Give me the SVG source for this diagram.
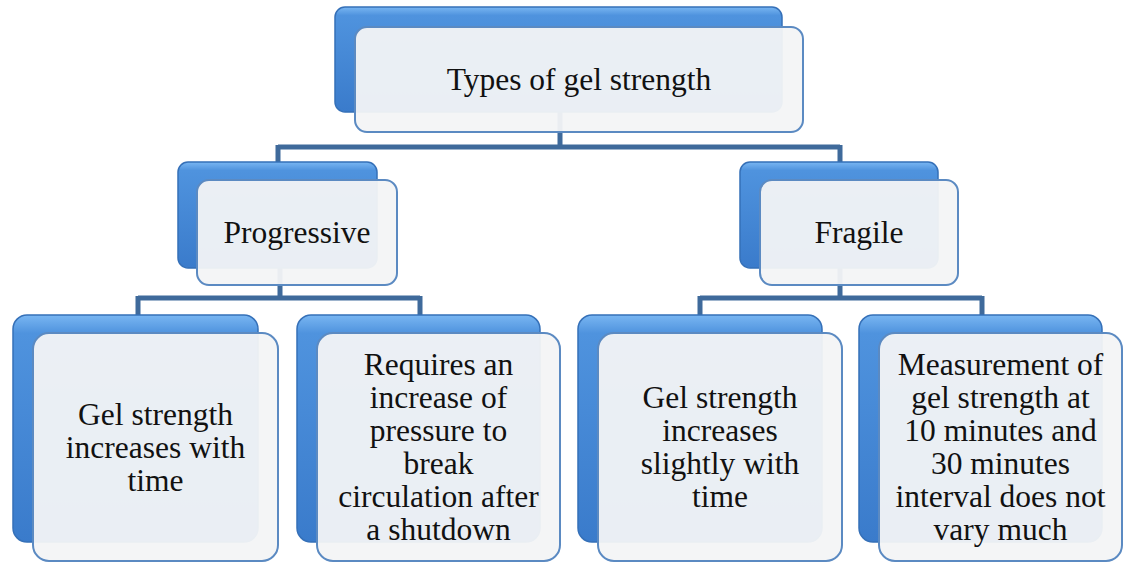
<svg xmlns="http://www.w3.org/2000/svg" width="1125" height="564" viewBox="0 0 1125 564">
<defs>
<linearGradient id="blue" x1="0" y1="0" x2="0" y2="1">
<stop offset="0" stop-color="#79b6f2"/>
<stop offset="0.08" stop-color="#4f93de"/>
<stop offset="1" stop-color="#3a7bcb"/>
</linearGradient>
<style>
.back{fill:url(#blue);stroke:#3570b8;stroke-width:1.5}
.front{fill:#f3f4f6;fill-opacity:0.95;stroke:#5b8ac2;stroke-width:2}
.conn{fill:none;stroke:#3f6a9b;stroke-width:5}
.t{font-family:"Liberation Serif","Times New Roman",serif;font-size:31.5px;fill:#111;text-anchor:middle}
</style>
</defs>
<rect width="1125" height="564" fill="#ffffff"/>
<g id="connectors">
<path class="conn" d="M560,112 V147 M278,147 H840 M278,145 V162 M840,145 V162"/>
<path class="conn" d="M280,268 V298 M138,298 H420 M138,296 V315 M420,296 V315"/>
<path class="conn" d="M840,268 V298 M700,298 H982 M700,296 V315 M982,296 V315"/>
</g>
<g id="node-root">
<rect class="back" x="335" y="7" width="447" height="105" rx="10"/>
<rect class="front" x="355" y="27" width="448" height="105" rx="12"/>
<text class="t" x="579" y="90">Types of gel strength</text>
</g>
<g id="node-progressive">
<rect class="back" x="178" y="162" width="199" height="106" rx="10"/>
<rect class="front" x="197" y="180" width="200" height="105" rx="12"/>
<text class="t" x="297" y="243">Progressive</text>
</g>
<g id="node-fragile">
<rect class="back" x="740" y="162" width="198" height="106" rx="10"/>
<rect class="front" x="760" y="180" width="198" height="105" rx="12"/>
<text class="t" x="859" y="243">Fragile</text>
</g>
<g id="node-p1">
<rect class="back" x="13" y="315" width="245" height="227" rx="14"/>
<rect class="front" x="33" y="333" width="245" height="228" rx="16"/>
<text class="t" x="155.5" y="425">Gel strength</text>
<text class="t" x="155.5" y="458">increases with</text>
<text class="t" x="155.5" y="491">time</text>
</g>
<g id="node-p2">
<rect class="back" x="297" y="315" width="243" height="227" rx="14"/>
<rect class="front" x="317" y="333" width="243" height="228" rx="16"/>
<text class="t" x="438.5" y="375">Requires an</text>
<text class="t" x="438.5" y="408">increase of</text>
<text class="t" x="438.5" y="441">pressure to</text>
<text class="t" x="438.5" y="474">break</text>
<text class="t" x="438.5" y="507">circulation after</text>
<text class="t" x="438.5" y="540">a shutdown</text>
</g>
<g id="node-f1">
<rect class="back" x="578" y="315" width="244" height="227" rx="14"/>
<rect class="front" x="598" y="333" width="244" height="228" rx="16"/>
<text class="t" x="720" y="408">Gel strength</text>
<text class="t" x="720" y="441">increases</text>
<text class="t" x="720" y="474">slightly with</text>
<text class="t" x="720" y="507">time</text>
</g>
<g id="node-f2">
<rect class="back" x="859" y="315" width="243" height="227" rx="14"/>
<rect class="front" x="879" y="333" width="243" height="228" rx="16"/>
<text class="t" x="1000.5" y="375">Measurement of</text>
<text class="t" x="1000.5" y="408">gel strength at</text>
<text class="t" x="1000.5" y="441">10 minutes and</text>
<text class="t" x="1000.5" y="474">30 minutes</text>
<text class="t" x="1000.5" y="507">interval does not</text>
<text class="t" x="1000.5" y="540">vary much</text>
</g>
</svg>
